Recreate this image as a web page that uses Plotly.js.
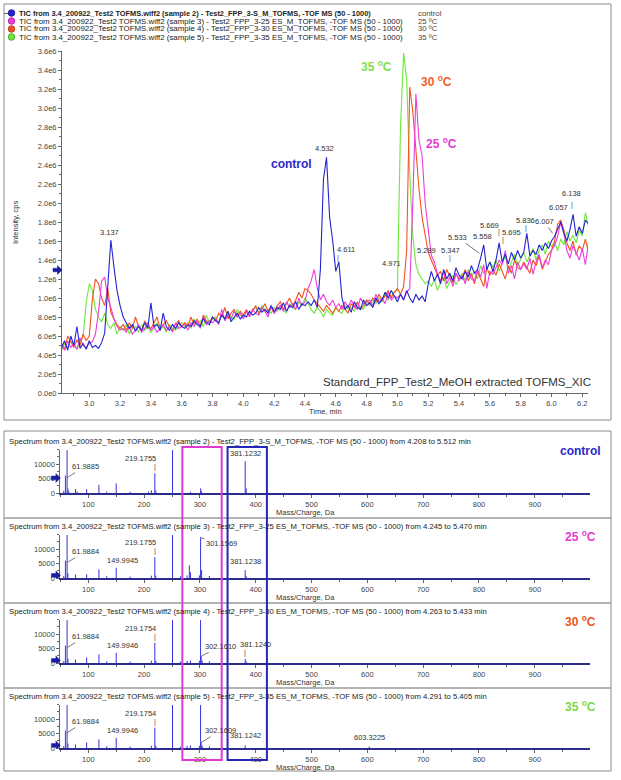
<!DOCTYPE html>
<html><head><meta charset="utf-8">
<script src="https://cdn.plot.ly/plotly-3.0.1.min.js"></script>
<style>html,body{margin:0;padding:0;background:#fff;}#chart{width:621px;height:780px;}</style>
</head><body><div id="chart"></div>
<script>
const W = 621, H = 780;

// ---------- TIC chromatograms (intensity in units of 1e4 cps), sampled every 0.02 min from 2.82 min ----------
const ticStart = 2.82, ticStep = 0.02;
const ticControl = [48,55,45,60,50,70,47,52,46,55, 48,50,47,53,63,118,161,133,108,92,
  80,74,68,72,65,70,66,74,68,95, 70,72,66,84,70,66,72,68,74,70, 68,72,70,76,72,70,78,74,72,80,
  76,74,82,78,86,75,80,84,78,82, 80,86,82,84,90,85,88,84,92,86, 90,88,95,86,92,90,96,88,94,92,
  96,92,98,90,130,225,248,185,160,128, 138,100,88,92,85,96,90,88,98,92, 95,90,100,94,98,106,100,108,102,96,
  104,98,108,100,95,104,98,102,96,115, 128,118,125,115,130,120,126,118,132,124, 120,128,122,134,126,130,142,156,130,138,
  128,140,158,138,146,136,148,140,150,142, 148,168,144,150,146,156,150,158,152,160, 165,172,180,168,160,172,188,165,175,168,182,178];
const tic25 = [50,45,55,48,52,46,58,50,48,52, 54,62,85,118,122,100,90,78,70,66,
  68,64,70,62,66,72,64,68,74,66, 70,64,68,72,66,70,64,74,68,70, 72,66,74,70,76,68,80,72,76,74,
  78,72,88,76,82,78,86,80,84,78, 86,80,88,84,82,90,86,80,92,84, 88,92,86,96,90,94,88,100,92,96,
  110,118,130,110,98,104,96,92,98,90, 94,88,96,90,98,92,88,100,94,96, 98,92,104,96,100,94,106,98,102,100,
  104,98,106,110,200,315,266,250,200,172, 145,138,125,118,128,115,122,112,126,118, 124,115,128,120,118,130,122,135,110,128,
  125,132,140,135,150,126,134,120,138,130, 136,130,142,125,138,146,132,140,135,150, 155,165,180,170,150,142,155,148,140,152,135,158];
const tic30 = [52,46,60,54,48,56,50,62,55,60, 98,120,115,100,92,110,85,78,72,68,
  72,66,74,68,80,70,66,76,70,68, 74,80,68,72,76,70,66,72,76,70, 74,70,80,72,78,70,82,76,74,80,
  76,84,80,90,78,84,88,80,86,82, 88,82,86,92,84,88,94,86,90,84, 92,96,88,94,100,92,98,106,100,110,
  108,104,98,94,90,86,92,88,84,90, 86,92,88,84,94,90,96,88,92,98, 94,100,96,104,98,102,108,100,106,110,
  104,112,150,322,296,250,215,185,165,148, 140,132,124,128,118,130,122,116,126,120, 122,130,118,126,115,128,120,112,132,124,
  130,124,136,128,120,134,126,140,132,130, 138,132,126,140,134,144,130,138,146,150, 160,178,182,172,158,150,160,145,155,150,162,148];
const tic35 = [45,52,48,55,50,46,54,60,95,115, 108,88,80,75,84,72,68,74,62,70,
  66,72,62,68,70,64,72,66,70,64, 68,74,66,70,64,72,68,66,70,74, 70,74,68,78,72,76,70,82,74,78,
  80,74,82,78,86,80,78,88,82,80, 86,82,88,90,84,92,86,88,84,90, 86,92,88,84,94,90,88,96,92,100,
  94,88,84,90,86,80,88,84,82,90, 86,84,92,88,90,86,94,90,88,96, 92,98,94,100,96,104,98,102,106,108,
  280,358,330,230,165,135,125,120,115,118, 112,120,108,116,122,110,118,124,114,120, 126,118,130,122,128,120,134,126,130,138,
  132,140,128,136,144,130,138,146,134,142, 148,138,145,152,140,150,156,146,160,154, 158,150,162,156,170,160,166,158,172,165,190,175];
const ticYTickVals = [0,20,40,60,80,100,120,140,160,180,200,220,240,260,280,300,320,340,360];
const ticYTickText = ['0.0e0','2.0e5','4.0e5','6.0e5','8.0e5','1.0e6','1.2e6','1.4e6','1.6e6','1.8e6','2.0e6',
  '2.2e6','2.4e6','2.6e6','2.8e6','3.0e6','3.2e6','3.4e6','3.6e6'];
const legendTexts = [
  'TIC from 3.4_200922_Test2 TOFMS.wiff2 (sample 2) - Test2_FPP_3-S_M_TOFMS, -TOF MS (50 - 1000)',
  'TIC from 3.4_200922_Test2 TOFMS.wiff2 (sample 3) - Test2_FPP_3-25 ES_M_TOFMS, -TOF MS (50 - 1000)',
  'TIC from 3.4_200922_Test2 TOFMS.wiff2 (sample 4) - Test2_FPP_3-30 ES_M_TOFMS, -TOF MS (50 - 1000)',
  'TIC from 3.4_200922_Test2 TOFMS.wiff2 (sample 5) - Test2_FPP_3-35 ES_M_TOFMS, -TOF MS (50 - 1000)'];
const legendNames = ['control', '25 ºC', '30 ºC', '35 ºC'];

// ---------- Mass spectra (m/z, counts) ----------
const specMz1 = [56,59,61.99,63.5,65,77,80,97,119,133,150,175,208,213,219.18,221,250.9,283,301.2,303,381.12,383];
const specInt1 = [800,6000,14800,1500,600,1400,500,1300,2800,500,3300,400,500,900,6800,900,14800,400,1600,600,11000,1600];
const specMz2 = [56,59,61.99,63.5,77,97,119,133,149.99,175,213,219.18,221,250.9,265,277,281,283,299,301.16,303,317,381.12,383];
const specInt2 = [700,6000,14800,1600,1200,1300,3000,600,3500,500,800,7200,800,14800,600,900,4400,2000,900,14000,2700,700,2700,600];
const specMz3 = [56,59,61.99,63.5,77,97,119,133,149.99,175,213,219.18,221,250.9,265,277,283,299,301.15,302.16,304,317,381.12,383];
const specInt3 = [700,6000,14800,1500,1200,1900,3000,600,3500,500,800,7000,800,14800,500,700,900,800,14800,2300,800,600,1400,500];
const specMz4 = [56,59,61.99,63.5,77,97,119,133,149.99,175,213,219.18,221,250.9,265,277,283,299,301.15,302.16,304,317,381.12,603.32];
const specInt4 = [700,6000,14800,1500,1200,1900,3000,600,3500,500,800,7000,800,14800,500,700,900,800,14800,1850,800,600,900,500];
const specTitles = [
  'Spectrum from 3.4_200922_Test2 TOFMS.wiff2 (sample 2) - Test2_FPP_3-S_M_TOFMS, -TOF MS (50 - 1000) from 4.208 to 5.512 min',
  'Spectrum from 3.4_200922_Test2 TOFMS.wiff2 (sample 3) - Test2_FPP_3-25 ES_M_TOFMS, -TOF MS (50 - 1000) from 4.245 to 5.470 min',
  'Spectrum from 3.4_200922_Test2 TOFMS.wiff2 (sample 4) - Test2_FPP_3-30 ES_M_TOFMS, -TOF MS (50 - 1000) from 4.263 to 5.433 min',
  'Spectrum from 3.4_200922_Test2 TOFMS.wiff2 (sample 5) - Test2_FPP_3-35 ES_M_TOFMS, -TOF MS (50 - 1000) from 4.291 to 5.405 min'];
const specYTicks = [0, 5000, 10000];
const magentaWindow = [268.5, 339];
const blueWindow = [349.5, 420];

// ---------- build ----------
const F = "'Liberation Sans',Arial,sans-serif";
const FA = "'Liberation Sans',Arial,sans-serif";
const P = x => x / W, Q = y => 1 - y / H;
const ticT = ticControl.map((_, i) => +(ticStart + i * ticStep).toFixed(2));
const cBlue = '#2424d0', cMag = '#ec3ce0', cOra = '#f2541e', cGrn = '#6ee83c';

const traces = [];
[[tic35, cGrn], [tic30, cOra], [tic25, cMag], [ticControl, cBlue]].forEach(([y, c]) => {
  traces.push({type:'scatter', mode:'lines', x: ticT, y: y, xaxis:'x', yaxis:'y',
    line:{color:c, width:1.1}, hoverinfo:'skip', showlegend:false});
});
function sticks(mz, inten) { const x = [], y = []; mz.forEach((m, i) => { x.push(m, m, null); y.push(0, inten[i], null); }); return {x, y}; }
const specs = [[specMz1, specInt1], [specMz2, specInt2], [specMz3, specInt3], [specMz4, specInt4]];
specs.forEach(([mz, it], k) => {
  const s = sticks(mz, it);
  traces.push({type:'scatter', mode:'lines', x: s.x, y: s.y, xaxis:'x' + (k + 2), yaxis:'y' + (k + 2),
    line:{color:'#3434e0', width:1}, hoverinfo:'skip', showlegend:false, connectgaps:false});
});

const axCol = '#666';
const layout = {
  width: W, height: H, margin:{l:0, r:0, t:0, b:0}, paper_bgcolor:'#fff', plot_bgcolor:'rgba(0,0,0,0)',
  showlegend:false,
  xaxis:{domain:[P(62), P(588)], range:[2.823, 6.237], anchor:'y', showline:true, linecolor:axCol, linewidth:1,
    ticks:'outside', ticklen:3, tickcolor:axCol, tickmode:'linear', tick0:0, dtick:0.2, tickformat:'.1f',
    minor:{ticks:'outside', ticklen:2, tickmode:'linear', tick0:0, dtick:0.1, tickcolor:axCol},
    showgrid:false, zeroline:false, tickfont:{family:F, size:7.5, color:'#444'}, fixedrange:true},
  yaxis:{domain:[Q(393), Q(51)], range:[0, 360], anchor:'x', showline:true, linecolor:axCol, linewidth:1,
    ticks:'outside', ticklen:3, tickcolor:axCol, tickmode:'array', tickvals:ticYTickVals, ticktext:ticYTickText,
    minor:{ticks:'outside', ticklen:2, tickmode:'linear', tick0:0, dtick:10, tickcolor:axCol},
    showgrid:false, zeroline:false, tickfont:{family:F, size:7.5, color:'#444'}, fixedrange:true},
  annotations:[], shapes:[]
};
for (let k = 0; k < 4; k++) {
  const base = 493 + 85 * k;
  layout['xaxis' + (k + 2)] = {domain:[P(60.4), P(589.5)], range:[50, 998], anchor:'y' + (k + 2),
    showline:true, linecolor:'#2c2c8c', linewidth:1.6, ticks:'outside', ticklen:3, tickcolor:axCol,
    tickmode:'linear', tick0:0, dtick:100, minor:{ticks:'outside', ticklen:2, tickmode:'linear', tick0:0, dtick:50, tickcolor:axCol},
    showgrid:false, zeroline:false, tickfont:{family:F, size:7.5, color:'#444'}, fixedrange:true};
  layout['yaxis' + (k + 2)] = {domain:[Q(base), Q(base - 43.5)], range:[0, 15000], anchor:'x' + (k + 2),
    showline:true, linecolor:axCol, linewidth:1, ticks:'outside', ticklen:3, tickcolor:axCol,
    tickmode:'array', tickvals:specYTicks, ticktext:specYTicks.map(String),
    minor:{ticks:'outside', ticklen:2, tickmode:'linear', tick0:0, dtick:2500, tickcolor:axCol},
    showgrid:false, zeroline:false, tickfont:{family:F, size:7.5, color:'#444'}, fixedrange:true};
}

const A = layout.annotations, S = layout.shapes;
function note(o) { A.push(Object.assign({showarrow:false, font:{family:F, size:7.5, color:'#333'}}, o)); }
// solid arrow marker pointing at an axis (pixel-sized path)
function axisArrow(xref, x, yref, y) {
  S.push({type:'path', xref:xref, yref:yref, xsizemode:'pixel', ysizemode:'pixel', xanchor:x, yanchor:y,
    path:'M-9,-1.8 L-4.5,-1.8 L-4.5,-4.5 L0,0 L-4.5,4.5 L-4.5,1.8 L-9,1.8 Z', fillcolor:'#1c1ca0', line:{color:'#1c1ca0', width:0.5}});
}

// frames
S.push({type:'rect', xref:'paper', yref:'paper', x0:P(4), x1:P(611), y0:Q(420), y1:Q(4), line:{color:'#8a8a8a', width:1}});
S.push({type:'rect', xref:'paper', yref:'paper', x0:P(4), x1:P(611), y0:Q(771), y1:Q(431), line:{color:'#8a8a8a', width:1}});
[518, 603, 688].forEach(y => S.push({type:'line', xref:'paper', yref:'paper', x0:P(4), x1:P(611), y0:Q(y), y1:Q(y), line:{color:'#9a9a9a', width:1.5}}));

// legend
const legCols = [cBlue, cMag, cOra, cGrn];
const legEdge = ['#10108a', '#a01898', '#a8300c', '#2f9a18'];
legendTexts.forEach((t, i) => {
  const yc = 13 + 8 * i;
  note({xref:'paper', yref:'paper', x:P(17), y:Q(yc), xanchor:'left', yanchor:'middle', text: i === 0 ? '<b>' + t + '</b>' : t,
    font:{family:F, size: i === 0 ? 7.4 : 7.9, color:'#222'}});
  note({xref:'paper', yref:'paper', x:P(416), y:Q(yc), xanchor:'left', yanchor:'middle', text:legendNames[i], font:{family:F, size:7.8, color:'#444'}});
  S.push({type:'circle', xref:'paper', yref:'paper', xsizemode:'pixel', ysizemode:'pixel', xanchor:P(11.5), yanchor:Q(yc),
    x0:-3.3, x1:3.3, y0:-3.3, y1:3.3, fillcolor:legCols[i], line:{color:legEdge[i], width:0.8}});
});
note({xref:'paper', yref:'paper', x:P(6), y:Q(13), xanchor:'center', yanchor:'middle', text:'–', font:{family:FA, size:9, color:'#222'}});

// top chart texts
note({xref:'paper', yref:'paper', x:P(325), y:Q(411), xanchor:'center', yanchor:'middle', text:'Time, min', font:{family:F, size:7.5, color:'#333'}});
note({xref:'paper', yref:'paper', x:P(15), y:Q(223), xanchor:'center', yanchor:'middle', text:'Intensity, cps', textangle:-90, font:{family:F, size:7.5, color:'#333'}});
note({xref:'paper', yref:'paper', x:P(593), y:Q(382), xanchor:'right', yanchor:'middle', text:'Standard_FPP_Test2_MeOH extracted TOFMS_XIC', font:{family:FA, size:11.5, color:'#333'}});
note({xref:'x', yref:'y', x:4.31, y:241, text:'<b>control</b>', font:{family:FA, size:12, color:'#2a2ac8'}});
note({xref:'x', yref:'y', x:4.862, y:344, text:'<b>35 <sup>o</sup>C</b>', font:{family:FA, size:12, color:'#7ee04c'}});
note({xref:'x', yref:'y', x:5.252, y:328, text:'<b>30 <sup>o</sup>C</b>', font:{family:FA, size:12, color:'#f0602a'}});
note({xref:'x', yref:'y', x:5.284, y:263, text:'<b>25 <sup>o</sup>C</b>', font:{family:FA, size:12, color:'#e23cd4'}});

// peak labels on TIC
[[3.130,168.7,'3.137'],[4.524,257.6,'4.532'],[4.667,151.5,'4.611'],[4.964,135.8,'4.971'],[5.187,149.8,'5.289'],
 [5.342,149.8,'5.347'],[5.555,164.5,'5.558'],[5.598,176.8,'5.669'],[5.739,168.7,'5.695'],[5.829,181.4,'5.836'],
 [6.046,195.5,'6.057'],[6.128,209.5,'6.138']].forEach(([x, y, t]) =>
  note({xref:'x', yref:'y', x:x, y:y, text:t}));
[[4.615,142],[5.342,142],[5.661,169.5],[5.687,161],[5.836,173.7],[6.135,198]].forEach(([x, y]) =>
  note({xref:'x', yref:'y', x:x, y:y, text:'|', font:{family:FA, size:7, color:'#444'}}));
note({xref:'x', yref:'y', x:5.533, y:147, text:'5.533', showarrow:true, arrowhead:0, arrowwidth:0.8, arrowcolor:'#555', ax:-22, ay:-16, standoff:0});
note({xref:'x', yref:'y', x:6.007, y:168, text:'6.007', showarrow:true, arrowhead:0, arrowwidth:0.8, arrowcolor:'#555', ax:-8, ay:-12, standoff:0});
axisArrow('paper', P(62), 'y', 129.5);

// spectra texts
const specRight = [['<b>control</b>', '#2a2ac8'], ['<b>25 <sup>o</sup>C</b>', '#e23cd4'], ['<b>30 <sup>o</sup>C</b>', '#ea5620'], ['<b>35 <sup>o</sup>C</b>', '#7ad84a']];
for (let k = 0; k < 4; k++) {
  const xa = 'x' + (k + 2), ya = 'y' + (k + 2), off = 85 * k;
  note({xref:'paper', yref:'paper', x:P(7), y:Q(441 + off), xanchor:'left', yanchor:'middle', text:specTitles[k], font:{family:F, size:7.7, color:'#222'}});
  note({xref:'paper', yref:'paper', x:P(305), y:Q(512 + off), xanchor:'center', yanchor:'middle', text:'Mass/Charge, Da', font:{family:F, size:7.5, color:'#333'}});
  note({xref:'paper', yref:'paper', x:P(580), y:Q(451 + off), xanchor:'center', yanchor:'middle', text:specRight[k][0], font:{family:FA, size:12, color:specRight[k][1]}});
  axisArrow('paper', P(60.4), ya, k === 0 ? 5200 : 900);
  const mz = specs[k][0], it = specs[k][1];
  const I = m => it[mz.indexOf(m)];
  note({xref:xa, yref:ya, x:61.99, y:5300, text: k === 0 ? '61.9885' : '61.9884', showarrow:true, arrowhead:0, arrowwidth:0.8, arrowcolor:'#555', ax:18, ay:-11, standoff:0});
  note({xref:xa, yref:ya, x:219.18, y:I(219.18), text: k < 2 ? '219.1755' : '219.1754', xanchor:'right', yanchor:'bottom', xshift:3, yshift:8});
  note({xref:xa, yref:ya, x:219.18, y:I(219.18), text:'|', yanchor:'bottom', yshift:0, font:{family:FA, size:7, color:'#444'}});
  if (k > 0) note({xref:xa, yref:ya, x:149.99, y:I(149.99), text: k === 1 ? '149.9945' : '149.9946', yanchor:'bottom', xshift:6, yshift:1});
}
note({xref:'x2', yref:'y2', x:381.12, y:specInt1[specMz1.indexOf(381.12)], text:'381.1232', yanchor:'bottom', yshift:1});
note({xref:'x3', yref:'y3', x:301.16, y:13900, text:'301.1569', showarrow:true, arrowhead:0, arrowwidth:0.8, arrowcolor:'#555', ax:21, ay:6, standoff:0});
note({xref:'x3', yref:'y3', x:381.12, y:specInt2[specMz2.indexOf(381.12)], text:'381.1238', yanchor:'bottom', yshift:2});
note({xref:'x4', yref:'y4', x:302.16, y:specInt3[specMz3.indexOf(302.16)], text:'302.1610', showarrow:true, arrowhead:0, arrowwidth:0.8, arrowcolor:'#555', ax:19, ay:-10, standoff:0});
note({xref:'x4', yref:'y4', x:381.12, y:specInt3[specMz3.indexOf(381.12)], text:'|', yanchor:'bottom', font:{family:FA, size:7, color:'#444'}});
note({xref:'x4', yref:'y4', x:381.12, y:specInt3[specMz3.indexOf(381.12)], text:'381.1240', xanchor:'left', yanchor:'bottom', xshift:-7, yshift:8});
note({xref:'x5', yref:'y5', x:302.16, y:specInt4[specMz4.indexOf(302.16)], text:'302.1609', showarrow:true, arrowhead:0, arrowwidth:0.8, arrowcolor:'#555', ax:19, ay:-12, standoff:0});
note({xref:'x5', yref:'y5', x:381.12, y:specInt4[specMz4.indexOf(381.12)], text:'381.1242', yanchor:'bottom', yshift:3});
note({xref:'x5', yref:'y5', x:603.32, y:specInt4[specMz4.indexOf(603.32)], text:'603.3225', yanchor:'bottom', yshift:3});

// highlight windows across spectra
S.push({type:'rect', xref:'x2', yref:'paper', x0:magentaWindow[0], x1:magentaWindow[1], y0:Q(760), y1:Q(447), line:{color:'#e03ad4', width:2}});
S.push({type:'rect', xref:'x2', yref:'paper', x0:blueWindow[0], x1:blueWindow[1], y0:Q(760), y1:Q(447), line:{color:'#2626b8', width:2}});

Plotly.newPlot('chart', traces, layout, {staticPlot:true, displayModeBar:false});
</script></body></html>
